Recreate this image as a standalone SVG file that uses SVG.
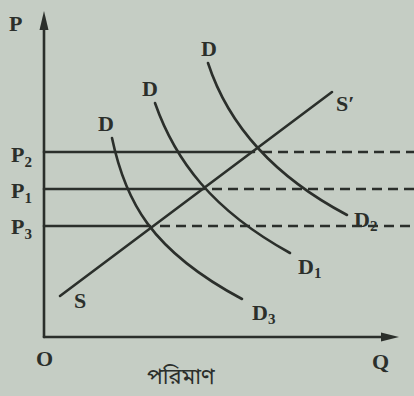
<svg xmlns="http://www.w3.org/2000/svg" width="414" height="396" viewBox="0 0 414 396">
<defs>
<style>
.ln{fill:none;stroke:#2b2f2b;stroke-width:2.6;stroke-linecap:round}
.ds{fill:none;stroke:#2b2f2b;stroke-width:2.6;stroke-dasharray:10 6}
.t{font-family:"Liberation Serif","DejaVu Serif",serif;font-weight:bold;font-size:22px;fill:#2b2f2b}
.s{font-size:15px}
.bn{font-family:"Noto Sans Bengali","Noto Sans",sans-serif;font-size:22px;fill:#2b2f2b}
</style>
</defs>
<rect width="414" height="396" fill="#c5cdc4"/>
<g id="axes">
<line class="ln" x1="44" y1="337" x2="44" y2="24"/>
<polygon points="44,11 39.5,30 48.5,30" fill="#2b2f2b"/>
<line class="ln" x1="44" y1="337" x2="386" y2="337"/>
<polygon points="399,337 381,332.5 381,341.5" fill="#2b2f2b"/>
<text class="t" x="36" y="366">O</text>
<text class="t" x="372" y="369">Q</text>
<text class="t" x="9" y="31">P</text>
<text class="bn" x="147" y="384">পরিমাণ</text>
</g>
<g id="connectors">
<line class="ln" x1="44" y1="152" x2="254" y2="152"/>
<line class="ds" x1="262" y1="152" x2="414" y2="152"/>
<line class="ln" x1="44" y1="189" x2="204" y2="189"/>
<line class="ds" x1="212" y1="189" x2="414" y2="189"/>
<line class="ln" x1="44" y1="226" x2="150" y2="226"/>
<line class="ds" x1="160" y1="226" x2="414" y2="226"/>
</g>
<g id="price-labels">
<text class="t" x="11" y="162">P<tspan class="s" dy="5">2</tspan></text>
<text class="t" x="11" y="198">P<tspan class="s" dy="5">1</tspan></text>
<text class="t" x="11" y="234">P<tspan class="s" dy="5">3</tspan></text>
</g>
<g id="supply">
<line class="ln" x1="60" y1="296" x2="332" y2="92"/>
<text class="t" x="74" y="308">S</text>
<text class="t" x="336" y="111">S′</text>
</g>
<g id="demand3">
<path class="ln" d="M112,138 C125,200 150,250 242,299"/>
<text class="t" x="98" y="131">D</text>
<text class="t" x="252" y="320">D<tspan class="s" dy="4">3</tspan></text>
</g>
<g id="demand1">
<path class="ln" d="M155,103 C175,160 212,210 290,253"/>
<text class="t" x="142" y="96">D</text>
<text class="t" x="298" y="274">D<tspan class="s" dy="4">1</tspan></text>
</g>
<g id="demand2">
<path class="ln" d="M208,63 C225,115 262,170 347,215"/>
<text class="t" x="201" y="56">D</text>
<text class="t" x="354" y="227">D<tspan class="s" dy="4">2</tspan></text>
</g>
</svg>
